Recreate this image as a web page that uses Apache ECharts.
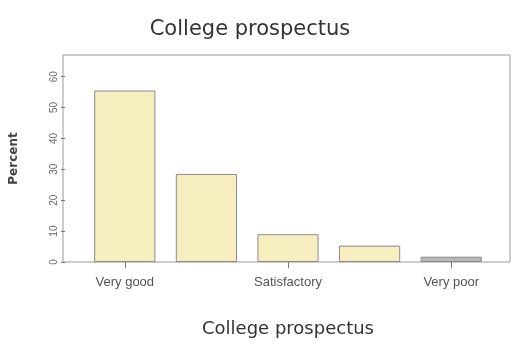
<!DOCTYPE html>
<html>
<head>
<meta charset="utf-8">
<script src="https://cdn.jsdelivr.net/npm/echarts@6/dist/echarts.min.js"></script>
<style>html,body{margin:0;padding:0;background:#fff;}#c{width:511px;height:345px;}</style>
</head>
<body>
<div id="c"></div>
<script>
const categories = ['Very good', 'Good', 'Satisfactory', 'Poor', 'Very poor'];
const percentValues = [55.5, 28.5, 9.0, 5.3, 1.7];
const barColors = ['#f7eebf', '#f7eebf', '#f7eebf', '#f7eebf', '#b9b9b9'];
const yTicks = [0, 10, 20, 30, 40, 50, 60];

const chart = echarts.init(document.getElementById('c'));
chart.setOption({
  backgroundColor: '#ffffff',
  animation: false,
  title: {
    text: 'College prospectus',
    left: 245, top: 14, textAlign: 'center',
    textStyle: { fontFamily: 'DejaVu Sans', fontSize: 21, fontWeight: 'normal', color: '#333' }
  },
  grid: [
    { left: 82, right: 19, top: 55, bottom: 83, show: false },
    { left: 63, right: 1, top: 55, bottom: 83, show: true, borderColor: '#999', borderWidth: 1, backgroundColor: 'transparent' }
  ],
  xAxis: [
    {
      type: 'category', data: categories, gridIndex: 0,
      axisLine: { show: false },
      axisTick: { show: true, alignWithLabel: true, interval: 1, length: 6, lineStyle: { color: '#777' } },
      axisLabel: { interval: 1, margin: 14, fontFamily: 'Liberation Sans Narrow, Liberation Sans', fontSize: 13, color: '#555' },
      name: 'College prospectus', nameLocation: 'middle', nameGap: 58,
      nameTextStyle: { fontFamily: 'DejaVu Sans', fontSize: 18, color: '#333' }
    },
    { type: 'value', gridIndex: 1, show: false, min: 0, max: 1 }
  ],
  yAxis: [
    {
      type: 'value', gridIndex: 0, min: 0, max: 67, interval: 10, offset: 19,
      axisLine: { show: false },
      axisTick: { show: true, length: 4, lineStyle: { color: '#777' } },
      splitLine: { show: false },
      axisLabel: {
        showMaxLabel: false, rotate: 90, margin: 6, fontFamily: 'Liberation Sans Narrow, Liberation Sans', fontSize: 10, color: '#666',
        formatter: function (v) { return yTicks.indexOf(v) >= 0 ? String(v) : ''; }
      },
      name: 'Percent', nameLocation: 'middle', nameGap: 45, nameRotate: 90,
      nameTextStyle: { fontFamily: 'DejaVu Sans', fontSize: 12, fontWeight: 'bold', color: '#444' }
    },
    { type: 'value', gridIndex: 1, show: false, min: 0, max: 1 }
  ],
  series: [{
    type: 'bar', xAxisIndex: 0, yAxisIndex: 0, barWidth: '75%',
    data: percentValues.map((v, i) => ({ value: v, itemStyle: { color: barColors[i], borderColor: '#8a8a8a', borderWidth: 1 } }))
  }]
});
</script>
</body>
</html>
